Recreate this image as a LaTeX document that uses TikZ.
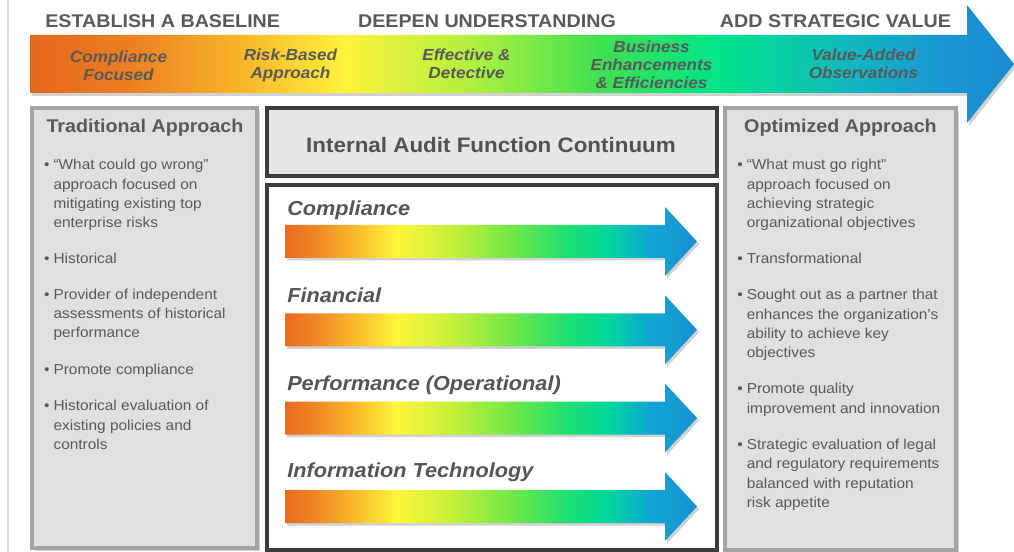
\documentclass[tikz,border=0pt]{standalone}
\usepackage{fontspec}
\setmainfont{Liberation Sans}[FakeStretch=1.07]
\definecolor{txt}{HTML}{595959}
\definecolor{boxgray}{HTML}{E0E0E0}
\definecolor{boxedge}{HTML}{A4A4A4}
\definecolor{darkedge}{HTML}{3C3C3C}
\definecolor{titlegray}{HTML}{E6E6E6}
\definecolor{b0}{HTML}{E5671C}
\definecolor{b1}{HTML}{EC7F22}
\definecolor{b2}{HTML}{F8B82A}
\definecolor{b3}{HTML}{FFF23A}
\definecolor{b4}{HTML}{B0F040}
\definecolor{b5}{HTML}{40E050}
\definecolor{b6}{HTML}{00E58A}
\definecolor{b7}{HTML}{10B8BE}
\definecolor{b8}{HTML}{1A95D5}
\definecolor{b9}{HTML}{1A8AD0}
\definecolor{i0}{HTML}{E8691E}
\definecolor{i1}{HTML}{F08A25}
\definecolor{i2}{HTML}{FAC02C}
\definecolor{i3}{HTML}{FFF53A}
\definecolor{i4}{HTML}{C8F038}
\definecolor{i5}{HTML}{70E848}
\definecolor{i6}{HTML}{20E070}
\definecolor{i7}{HTML}{00D89A}
\definecolor{i8}{HTML}{10A8D0}
\definecolor{i9}{HTML}{1890D6}
\pgfdeclarehorizontalshading{bigshade}{100bp}{color(0bp)=(b0); color(25bp)=(b0); color(30bp)=(b1); color(36bp)=(b2); color(41bp)=(b3); color(47.5bp)=(b4); color(54bp)=(b5); color(60bp)=(b6); color(66.5bp)=(b7); color(71.5bp)=(b8); color(75bp)=(b9); color(100bp)=(b9)}
\pgfdeclarehorizontalshading{innershade}{100bp}{color(0bp)=(i0); color(25bp)=(i0); color(29bp)=(i1); color(34bp)=(i2); color(38.5bp)=(i3); color(45bp)=(i4); color(52.5bp)=(i5); color(59bp)=(i6); color(64bp)=(i7); color(69bp)=(i8); color(75bp)=(i9); color(100bp)=(i9)}
\newcommand{\fhead}{\fontsize{13.8}{15}\selectfont\bfseries}
\newcommand{\flab}{\fontsize{12}{13.5}\selectfont\bfseries\itshape}
\newcommand{\fbul}{\fontsize{10.8}{14.5}\selectfont}
\newcommand{\bt}{\llap{•\hspace{3pt}}}
\tikzset{
  hdr/.style={anchor=base, inner sep=0, text=txt, font=\fhead},
  arrlab/.style={anchor=base, inner sep=0, align=center, text=txt, font=\flab},
  boxtitle/.style={anchor=base, inner sep=0, text=txt, font=\fhead},
  bul/.style={anchor=base west, align=left, inner sep=0, text=txt, font=\fbul},
  sidebox/.style={fill=boxgray, draw=boxedge, line width=2.5},
  shadowfill/.style={fill=black, opacity=0.18},
  innerlab/.style={anchor=base west, inner sep=0, text=txt!95!black, font=\fontsize{15.2}{17}\selectfont\bfseries\itshape}
}
\begin{document}
\begin{tikzpicture}[x=0.75pt, y=-0.75pt]
\useasboundingbox (0,0) rectangle (1014,552);
% thin left rule
\draw[color=black!15, line width=1] (8,0) -- (8,552);
% big arrow
\fill[shadowfill] (32,38) -- (969,38) -- (969,8) -- (1016,67) -- (969,126) -- (969,96) -- (32,96) -- cycle;
\shade[shading=bigshade] (30,35) -- (967,35) -- (967,5) -- (1014,64) -- (967,123) -- (967,93) -- (30,93) -- cycle;
% headers
\node[hdr] (h1) at (162.7,27.3) {ESTABLISH A BASELINE};
\node[hdr] (h2) at (487,27.3) {DEEPEN UNDERSTANDING};
\node[hdr] (h3) at (835.5,27.3) {ADD STRATEGIC VALUE};
% arrow labels (base = last line baseline)
\node[arrlab] (a1) at (118.5,80.5) {Compliance\\Focused};
\node[arrlab] (a2) at (290.5,78.3) {Risk-Based\\Approach};
\node[arrlab] (a3) at (466.5,78.3) {Effective \&\\Detective};
\node[arrlab] (a4) at (651.5,88.5) {Business\\Enhancements\\\& Efficiencies};
\node[arrlab] (a5) at (863.5,78.3) {Value-Added\\Observations};
% side boxes
\fill[shadowfill] (35,111) rectangle (260,551);
\draw[sidebox] (32,108) rectangle (257,548);
\fill[shadowfill] (728,111) rectangle (959,552);
\draw[sidebox] (725,108) rectangle (956,550);
\node[boxtitle] (tl) at (145,132.7) {Traditional Approach};
\node[boxtitle] (tr) at (840.5,133) {Optimized Approach};
% left bullets (base = last line baseline)
\node[bul] (l1) at (53.3,227.7) {\bt“What could go wrong”\\approach focused on\\mitigating existing top\\enterprise risks};
\node[bul] (l2) at (53.3,263.5) {\bt Historical};
\node[bul] (l3) at (53.3,338) {\bt Provider of independent\\assessments of historical\\performance};
\node[bul] (l4) at (53.3,374.5) {\bt Promote compliance};
\node[bul] (l5) at (53.3,449.5) {\bt Historical evaluation of\\existing policies and\\controls};
% right bullets
\node[bul] (r1) at (746.5,227.7) {\bt“What must go right”\\approach focused on\\achieving strategic\\organizational objectives};
\node[bul] (r2) at (746.5,263.5) {\bt Transformational};
\node[bul] (r3) at (746.5,357.8) {\bt Sought out as a partner that\\enhances the organization’s\\ability to achieve key\\objectives};
\node[bul] (r4) at (746.5,413) {\bt Promote quality\\improvement and innovation};
\node[bul] (r5) at (746.5,507.5) {\bt Strategic evaluation of legal\\and regulatory requirements\\balanced with reputation\\risk appetite};
% center title box
\draw[fill=titlegray, draw=darkedge, line width=3] (267,108.5) rectangle (716.5,176);
\node[anchor=base, inner sep=0, text=black!68, font=\fontsize{15.7}{18}\selectfont\bfseries] (ct) at (491,152.3) {Internal Audit Function Continuum};
% center content box
\draw[fill=white, draw=darkedge, line width=3] (267,185) rectangle (716.5,550);
% inner arrows
\foreach \c/\lab/\b [count=\i] in {241.5/Compliance/215.3, 329.8/Financial/302.8, 418/Performance (Operational)/390.5, 506.5/Information Technology/477.3}{
  \fill[shadowfill] (287,\c-14) -- (667,\c-14) -- (667,\c-32) -- (699,\c+2.5) -- (667,\c+37) -- (667,\c+19) -- (287,\c+19) -- cycle;
  \shade[shading=innershade] (285,\c-16.5) -- (665,\c-16.5) -- (665,\c-34.5) -- (697,\c) -- (665,\c+34.5) -- (665,\c+16.5) -- (285,\c+16.5) -- cycle;
  \node[innerlab] (il\i) at (287,\b) {\lab};
}
\end{tikzpicture}
\end{document}
